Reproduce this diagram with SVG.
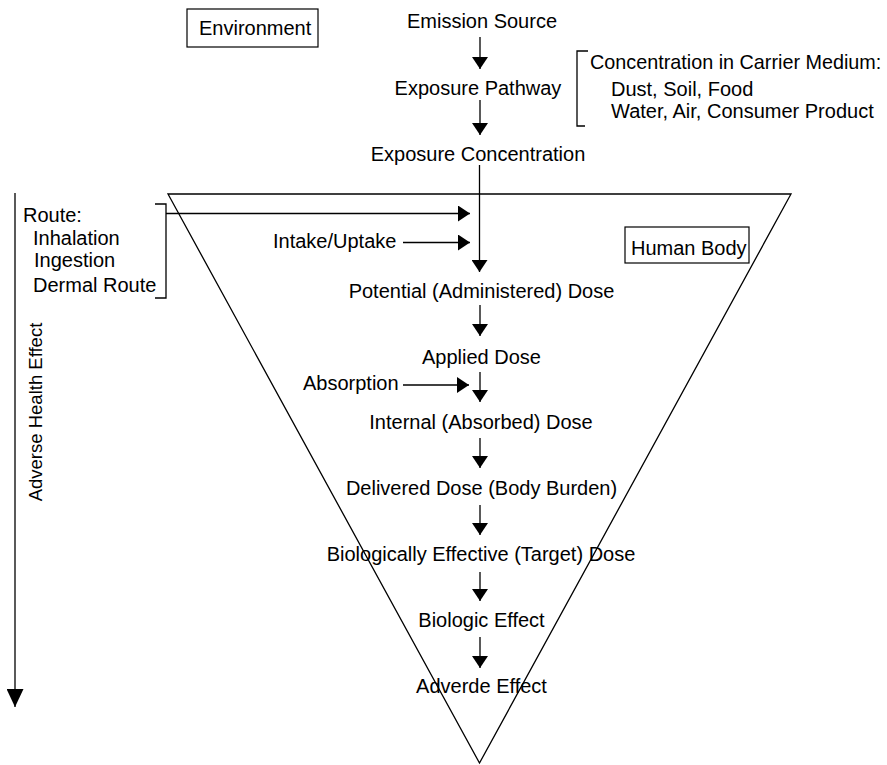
<svg xmlns="http://www.w3.org/2000/svg" width="887" height="765" viewBox="0 0 887 765">
  <style>
    text { font-family: "Liberation Sans", Arial, sans-serif; font-size: 20px; fill: #000; }
    .c { text-anchor: middle; }
    .ln { stroke: #000; stroke-width: 1.3; fill: none; }
    .box { stroke: #000; stroke-width: 1.2; fill: none; }
    .arr { stroke: #000; stroke-width: 1.3; fill: none; marker-end: url(#head); }
  </style>
  <defs>
    <marker id="head" viewBox="0 0 12 16" refX="12" refY="8" markerWidth="12" markerHeight="16" markerUnits="userSpaceOnUse" orient="auto">
      <path d="M0,0 L12,8 L0,16 z" fill="#000"/>
    </marker>
    <marker id="headBig" viewBox="0 0 18 17" refX="18" refY="8.5" markerWidth="18" markerHeight="17" markerUnits="userSpaceOnUse" orient="auto">
      <path d="M0,0 L18,8.5 L0,17 z" fill="#000"/>
    </marker>
  </defs>

  <!-- body outline: inverted triangle -->
  <polygon id="body-outline" class="ln" points="168,194 791,194 479.5,763"/>

  <!-- connectors -->
  <g id="connectors">
    <line class="arr" x1="480" y1="37" x2="480" y2="69"/>
    <line class="arr" x1="480" y1="100" x2="480" y2="135"/>
    <line class="arr" x1="479.5" y1="165" x2="479.5" y2="272"/>
    <line class="arr" x1="480" y1="305" x2="480" y2="336"/>
    <line class="arr" x1="480" y1="372" x2="480" y2="402"/>
    <line class="arr" x1="480" y1="438" x2="480" y2="468"/>
    <line class="arr" x1="480" y1="505" x2="480" y2="535"/>
    <line class="arr" x1="480" y1="572" x2="480" y2="601"/>
    <line class="arr" x1="480" y1="637" x2="480" y2="668"/>
    <!-- route, intake and absorption inputs -->
    <line class="arr" x1="166" y1="213.5" x2="470" y2="213.5"/>
    <line class="arr" x1="403" y1="242.5" x2="470" y2="242.5"/>
    <line class="arr" x1="403" y1="385" x2="469" y2="385"/>
    <!-- adverse health effect axis -->
    <line class="ln" x1="15" y1="193" x2="15" y2="707" marker-end="url(#headBig)"/>
  </g>

  <g id="environment">
    <rect class="box" x="187" y="9" width="131" height="38"/>
    <text x="199" y="35">Environment</text>
  </g>

  <g id="human-body">
    <rect class="box" x="625" y="227" width="124" height="36"/>
    <text x="631" y="255">Human Body</text>
  </g>

  <g id="emission-source"><text class="c" x="482" y="28">Emission Source</text></g>
  <g id="exposure-pathway"><text class="c" x="478" y="95">Exposure Pathway</text></g>
  <g id="exposure-concentration"><text class="c" x="478" y="161">Exposure Concentration</text></g>

  <g id="carrier-medium">
    <path class="ln" d="M588,51 H577 V126 H585"/>
    <text x="590" y="69" style="font-size:19.8px">Concentration in Carrier Medium:</text>
    <text x="611" y="96">Dust, Soil, Food</text>
    <text x="611" y="118">Water, Air, Consumer Product</text>
  </g>

  <g id="route">
    <path class="ln" d="M155,204 H166 V298 H155"/>
    <text x="23" y="222">Route:</text>
    <text x="33" y="245">Inhalation</text>
    <text x="34" y="267">Ingestion</text>
    <text x="33" y="292">Dermal Route</text>
  </g>

  <g id="intake"><text x="273" y="248">Intake/Uptake</text></g>
  <g id="absorption"><text x="303" y="390">Absorption</text></g>

  <g id="potential-dose"><text class="c" x="481.5" y="298">Potential (Administered) Dose</text></g>
  <g id="applied-dose"><text class="c" x="481.5" y="364">Applied Dose</text></g>
  <g id="internal-dose"><text class="c" x="481" y="429">Internal (Absorbed) Dose</text></g>
  <g id="delivered-dose"><text class="c" x="481.5" y="495">Delivered Dose (Body Burden)</text></g>
  <g id="target-dose"><text class="c" x="481" y="561">Biologically Effective (Target) Dose</text></g>
  <g id="biologic-effect"><text class="c" x="481.5" y="627">Biologic Effect</text></g>
  <g id="adverse-effect"><text class="c" x="481.5" y="693">Adverde Effect</text></g>

  <g id="adverse-health-effect">
    <text class="c" transform="translate(42,412) rotate(-90)" style="font-size:18.5px">Adverse Health Effect</text>
  </g>
</svg>
